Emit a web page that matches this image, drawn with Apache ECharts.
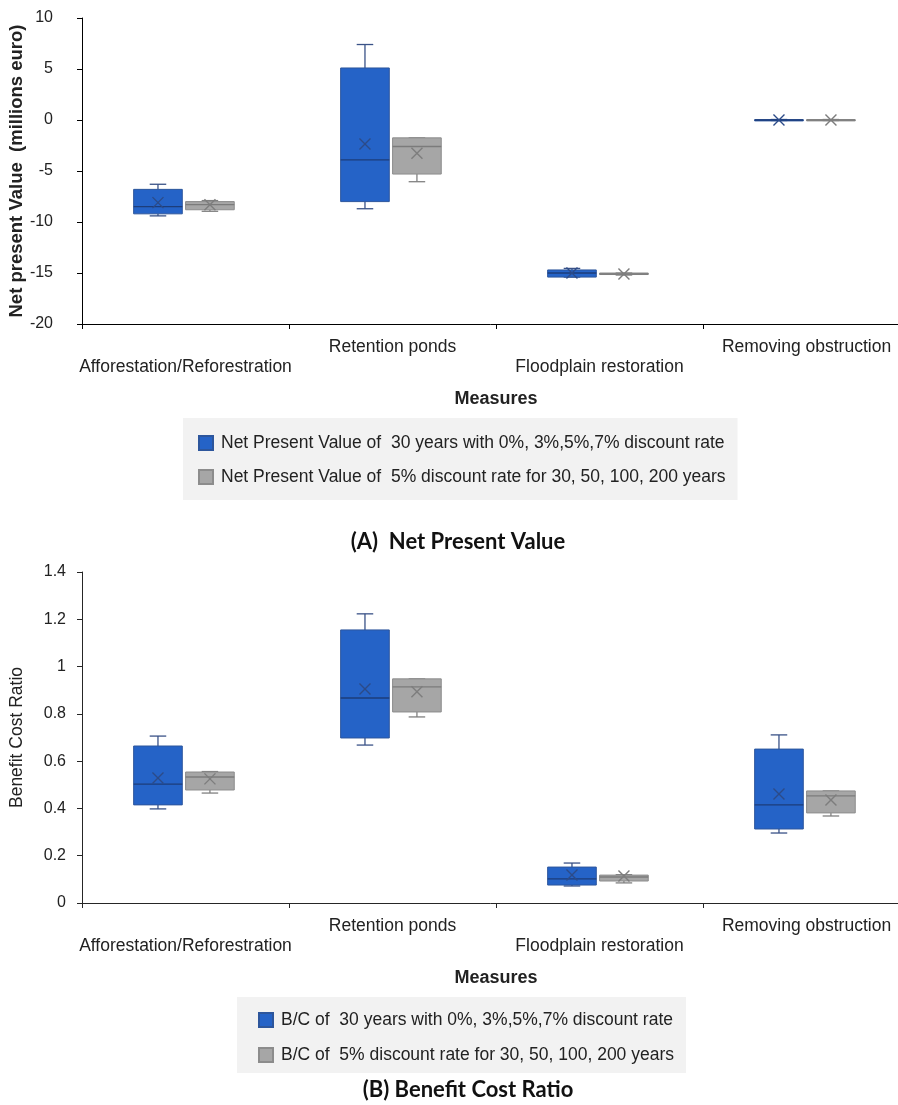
<!DOCTYPE html>
<html>
<head>
<meta charset="utf-8">
<script src="https://cdn.jsdelivr.net/npm/echarts@6/dist/echarts.min.js"></script>
<style>
html,body{margin:0;padding:0;background:#fff;}
#c{width:898px;height:1105px;}
</style>
</head>
<body>
<div id="c"></div>
<script>
// ---------- data ----------
const categories = ['Afforestation/Reforestration', 'Retention ponds', 'Floodplain restoration', 'Removing obstruction'];

// box values: [min, Q1, median, Q3, max]
const npvRateBox  = [[-9.4, -9.2, -8.5, -6.8, -6.3], [-8.7, -8.0, -3.9, 5.1, 7.4], [-15.4, -15.4, -15.0, -14.7, -14.55], [-0.05, -0.03, 0, 0.03, 0.05]];
const npvRateMean = [-8.1, -2.35, -15.0, 0];
const npvYearsBox  = [[-8.95, -8.8, -8.3, -8.0, -7.9], [-6.05, -5.3, -2.6, -1.75, -1.75], [-15.2, -15.15, -15.1, -15.0, -15.0], [-0.05, -0.03, 0, 0.03, 0.05]];
const npvYearsMean = [-8.3, -3.25, -15.1, 0];

const bcRateBox  = [[0.398, 0.415, 0.503, 0.664, 0.706], [0.668, 0.698, 0.867, 1.155, 1.223], [0.072, 0.076, 0.102, 0.152, 0.169], [0.296, 0.313, 0.415, 0.651, 0.711]];
const bcRateMean = [0.529, 0.905, 0.118, 0.461];
const bcYearsBox  = [[0.465, 0.478, 0.533, 0.554, 0.556], [0.787, 0.808, 0.914, 0.948, 0.948], [0.085, 0.093, 0.110, 0.118, 0.120], [0.368, 0.381, 0.453, 0.474, 0.474]];
const bcYearsMean = [0.525, 0.893, 0.114, 0.436];

const npvTicks = {min: -20, max: 10, interval: 5};
const bcTicks = {min: 0, max: 1.4, interval: 0.2};

const names = {
  npvRate: 'Net Present Value of  30 years with 0%, 3%,5%,7% discount rate',
  npvYears: 'Net Present Value of  5% discount rate for 30, 50, 100, 200 years',
  bcRate: 'B/C of  30 years with 0%, 3%,5%,7% discount rate',
  bcYears: 'B/C of  5% discount rate for 30, 50, 100, 200 years'
};

// ---------- styles ----------
const FONT = 'Liberation Sans, Arial, sans-serif';
const blueSty = {fill: '#2563c7', border: '#2d569c', median: '#1d3d7a', whisker: '#3a5287', mean: '#2c4b88'};
const graySty = {fill: '#a6a6a6', border: '#8c8c8c', median: '#7b7b7b', whisker: '#808080', mean: '#7d7d7d'};

function toData(box, mean) {
  return categories.map(function (c, i) { return [i].concat(box[i]).concat([mean[i]]); });
}

function boxRenderer(offsetFrac, widthFrac, sty) {
  return function (params, api) {
    const c = api.value(0);
    const pMin = api.coord([c, api.value(1)]);
    const yMin = pMin[1];
    const yQ1 = api.coord([c, api.value(2)])[1];
    const yMed = api.coord([c, api.value(3)])[1];
    const yQ3 = api.coord([c, api.value(4)])[1];
    const yMax = api.coord([c, api.value(5)])[1];
    const yMean = api.coord([c, api.value(6)])[1];
    const band = api.size([1, 0])[0];
    const cx = pMin[0] + band * offsetFrac;
    const w = band * widthFrac;
    const cap = w * 0.34;
    const m = 5.5;
    const ls = {stroke: sty.whisker, lineWidth: 1.3};
    return {
      type: 'group',
      children: [
        {type: 'line', shape: {x1: cx, y1: yMax, x2: cx, y2: yQ3}, style: ls},
        {type: 'line', shape: {x1: cx - cap / 2, y1: yMax, x2: cx + cap / 2, y2: yMax}, style: ls},
        {type: 'line', shape: {x1: cx, y1: yMin, x2: cx, y2: yQ1}, style: ls},
        {type: 'line', shape: {x1: cx - cap / 2, y1: yMin, x2: cx + cap / 2, y2: yMin}, style: ls},
        {type: 'rect', shape: {x: cx - w / 2, y: yQ3, width: w, height: Math.max(yQ1 - yQ3, 1.2)},
          style: {fill: sty.fill, stroke: sty.border, lineWidth: 1}},
        {type: 'line', shape: {x1: cx - w / 2, y1: yMed, x2: cx + w / 2, y2: yMed}, style: {stroke: sty.median, lineWidth: 1.3}},
        {type: 'line', shape: {x1: cx - m, y1: yMean - m, x2: cx + m, y2: yMean + m}, style: {stroke: sty.mean, lineWidth: 1.4}},
        {type: 'line', shape: {x1: cx - m, y1: yMean + m, x2: cx + m, y2: yMean - m}, style: {stroke: sty.mean, lineWidth: 1.4}}
      ]
    };
  };
}

function xAxisCfg(gi, color) {
  return {
    type: 'category', gridIndex: gi, data: categories, boundaryGap: true,
    axisLine: {show: true, onZero: false, lineStyle: {color: color, width: 1}},
    axisTick: {show: true, length: 5, lineStyle: {color: color}},
    axisLabel: {interval: 0, hideOverlap: false, margin: 13, fontSize: 17.5, lineHeight: 20, color: '#222', fontFamily: FONT,
      formatter: function (v, i) { return i % 2 === 0 ? '\n' + v : v; }},
    splitLine: {show: false},
    name: 'Measures', nameLocation: 'middle', nameGap: 66,
    nameTextStyle: {fontWeight: 'bold', fontSize: 18, color: '#222', fontFamily: FONT}
  };
}

function yAxisCfg(gi, ticks, name, bold, size, margin, color) {
  return {
    type: 'value', gridIndex: gi, min: ticks.min, max: ticks.max, interval: ticks.interval,
    axisLine: {show: true, lineStyle: {color: color, width: 1}},
    axisTick: {show: true, length: 5, inside: false, lineStyle: {color: color}},
    axisLabel: {margin: margin, fontSize: 16, color: '#222', fontFamily: FONT},
    splitLine: {show: false},
    name: name, nameLocation: 'middle', nameGap: 56, nameRotate: 90, nameMoveOverlap: false,
    nameTextStyle: {fontWeight: bold ? 'bold' : 'normal', fontSize: size, color: '#222', fontFamily: FONT}
  };
}

function seriesCfg(name, xi, box, mean, offsetFrac, sty) {
  return {
    type: 'custom', name: name, xAxisIndex: xi, yAxisIndex: xi,
    data: toData(box, mean),
    encode: {x: 0, y: [1, 2, 3, 4, 5, 6]},
    itemStyle: {color: sty.fill, borderColor: sty.border, borderWidth: 1},
    renderItem: boxRenderer(offsetFrac, 0.235, sty)
  };
}

const legendBase = {
  orient: 'vertical', icon: 'rect', itemWidth: 14, itemHeight: 14,
  backgroundColor: '#f2f2f2', borderWidth: 0, selectedMode: false,
  textStyle: {fontSize: 17.5, lineHeight: 20, color: '#222', fontFamily: FONT, padding: [0, 0, 0, 3]}
};

const chart = echarts.init(document.getElementById('c'));
chart.setOption({
  animation: false,
  backgroundColor: '#fff',
  textStyle: {fontFamily: FONT},
  grid: [
    {left: 82, right: -12, top: 18, bottom: 781, outerBoundsMode: 'none', containLabel: false},
    {left: 82, right: -12, top: 572, bottom: 202, outerBoundsMode: 'none', containLabel: false}
  ],
  xAxis: [xAxisCfg(0, '#000'), xAxisCfg(1, '#262626')],
  yAxis: [
    yAxisCfg(0, npvTicks, 'Net present Value  (millions euro)', true, 18.5, 29, '#000'),
    yAxisCfg(1, bcTicks, 'Benefit Cost Ratio', false, 17.5, 16, '#262626')
  ],
  legend: [
    Object.assign({}, legendBase, {left: 183, top: 418, itemGap: 14, padding: [15, 12, 13, 15], data: [names.npvRate, names.npvYears]}),
    Object.assign({}, legendBase, {left: 237, top: 997, itemGap: 15, padding: [13, 12, 8, 21], data: [names.bcRate, names.bcYears]})
  ],
  graphic: [
    {type: 'text', x: 458, y: 542, style: {text: '(A)  Net Present Value', font: 'bold 22px Lato, sans-serif', fill: '#111',
      textAlign: 'center', textVerticalAlign: 'middle', align: 'center', verticalAlign: 'middle'}},
    {type: 'text', x: 468, y: 1090, style: {text: '(B) Benefit Cost Ratio', font: 'bold 22px Lato, sans-serif', fill: '#111',
      textAlign: 'center', textVerticalAlign: 'middle', align: 'center', verticalAlign: 'middle'}}
  ],
  series: [
    seriesCfg(names.npvRate, 0, npvRateBox, npvRateMean, -0.133, blueSty),
    seriesCfg(names.npvYears, 0, npvYearsBox, npvYearsMean, 0.118, graySty),
    seriesCfg(names.bcRate, 1, bcRateBox, bcRateMean, -0.133, blueSty),
    seriesCfg(names.bcYears, 1, bcYearsBox, bcYearsMean, 0.118, graySty)
  ]
});
</script>
</body>
</html>
